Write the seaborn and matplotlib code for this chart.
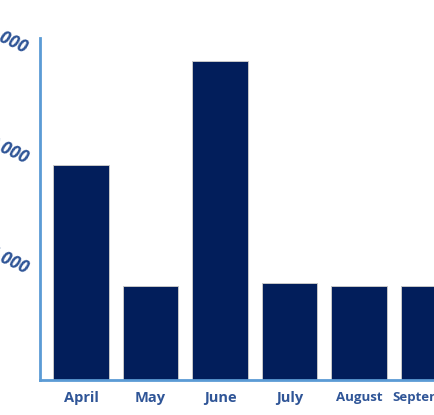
import pandas as pd
import seaborn as sns
import matplotlib.pyplot as plt

# data
months = ['April', 'May', 'June', 'July', 'August', 'September']
values = [1945, 850, 2885, 878, 850, 850]
y_ticks = [1000, 2000, 3000]
y_labels = ['1,000', '2,000', '3,000']

df = pd.DataFrame({'month': months, 'value': values})

sns.set_style('white')
plt.rcParams['font.family'] = ['Open Sans', 'DejaVu Sans']

axis_col = '#5b9bd5'
text_col = '#2f5597'
bar_col = '#021e5b'

fig = plt.figure(figsize=(4.35, 4.15), dpi=100)
# axes runs past the right edge, like the cropped original
ax = fig.add_axes([40 / 435, 35 / 415, 423 / 435, 342 / 415])

sns.barplot(data=df, x='month', y='value', color=bar_col, saturation=1,
            width=0.8, edgecolor='#c8c8c8', linewidth=0.7, ax=ax)

ax.set_xlim(-0.592, 5.5)
ax.set_ylim(0, 3095)
ax.set_xlabel('')
ax.set_ylabel('')

sns.despine(ax=ax)
for s in ['left', 'bottom']:
    ax.spines[s].set_color(axis_col)
    ax.spines[s].set_linewidth(2)

ax.set_yticks(y_ticks)
ax.set_yticklabels(y_labels, rotation=-25, ha='right', va='center',
                   rotation_mode='anchor', fontsize=12.5, fontweight='bold',
                   fontstyle='italic', color=text_col)
ax.tick_params(axis='both', colors=axis_col, length=5, width=1.5, direction='out')
ax.tick_params(axis='y', pad=4)
ax.tick_params(axis='x', pad=3)

labels = ax.set_xticklabels(months, fontweight='bold', color=text_col, fontsize=10.5)
for lb in labels:
    lb.set_color(text_col)
    if lb.get_text() in ('August', 'September'):
        lb.set_fontsize(9.5)
for lb in ax.get_yticklabels():
    lb.set_color(text_col)

fig.savefig('out.png', dpi=100)
